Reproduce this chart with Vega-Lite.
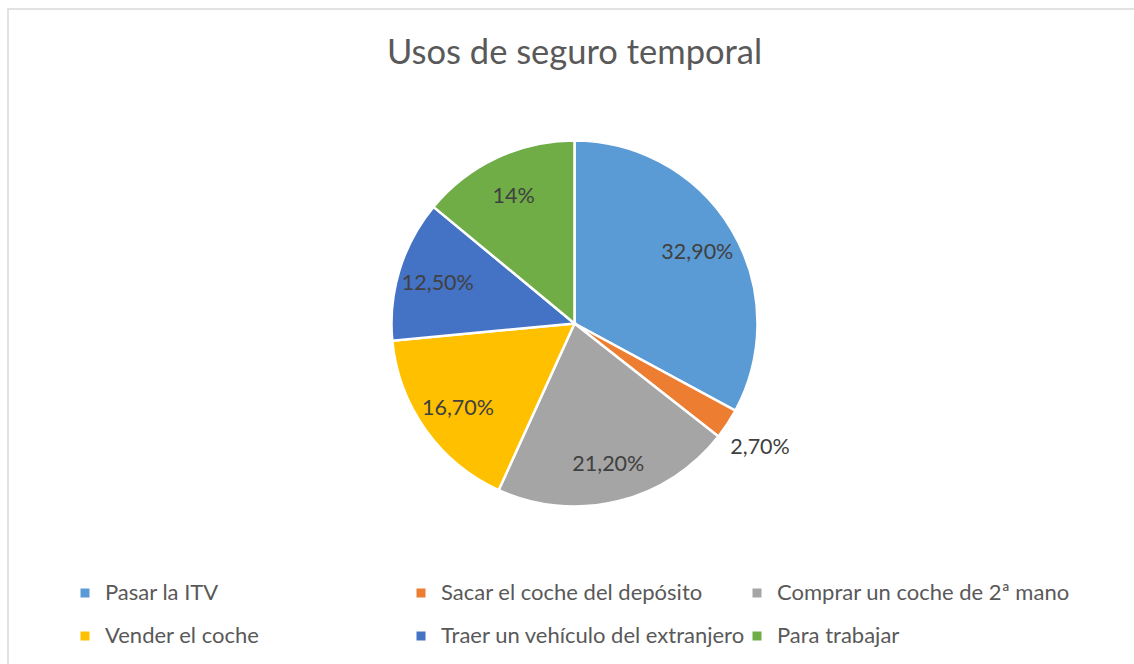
{
  "$schema": "https://vega.github.io/schema/vega-lite/v6.json",
  "autosize": {"type": "none"},
  "padding": {"left": 8, "top": 9, "right": 0, "bottom": 0},
  "width": 1140,
  "height": 668,
  "background": "#ffffff",
  "view": {"stroke": "#d9d9d9", "strokeWidth": 1.5, "fill": "#ffffff"},
  "title": {
    "text": "Usos de seguro temporal",
    "font": "Lato",
    "fontSize": 34.5,
    "fontWeight": "normal",
    "color": "#595959",
    "anchor": "start",
    "frame": "group",
    "dx": 379,
    "offset": -62
  },
  "data": {
    "values": [
      {"uso": "Pasar la ITV", "valor": 32.9, "label": "32,90%", "orden": 1},
      {"uso": "Sacar el coche del depósito", "valor": 2.7, "label": "2,70%", "orden": 2},
      {"uso": "Comprar un coche de 2ª mano", "valor": 21.2, "label": "21,20%", "orden": 3},
      {"uso": "Vender el coche", "valor": 16.7, "label": "16,70%", "orden": 4},
      {"uso": "Traer un vehículo del extranjero", "valor": 12.5, "label": "12,50%", "orden": 5},
      {"uso": "Para trabajar", "valor": 14, "label": "14%", "orden": 6}
    ]
  },
  "encoding": {
    "theta": {"field": "valor", "type": "quantitative", "stack": true},
    "order": {"field": "orden", "type": "quantitative"}
  },
  "layer": [
    {
      "mark": {"type": "arc", "outerRadius": 183, "stroke": "#ffffff", "strokeWidth": 2.5, "xOffset": -3.5, "yOffset": -19.5},
      "encoding": {
        "color": {
          "field": "uso",
          "type": "nominal",
          "sort": null,
          "scale": {
            "domain": ["Pasar la ITV", "Sacar el coche del depósito", "Comprar un coche de 2ª mano", "Vender el coche", "Traer un vehículo del extranjero", "Para trabajar"],
            "range": ["#5B9BD5", "#ED7D31", "#A5A5A5", "#FFC000", "#4472C4", "#70AD47"]
          },
          "legend": {
            "title": null,
            "orient": "none",
            "direction": "horizontal",
            "legendX": 66,
            "legendY": 573,
            "columns": 3,
            "gridAlign": "all",
            "columnPadding": 0,
            "rowPadding": 21,
            "symbolType": "square",
            "symbolSize": 81,
            "symbolStrokeWidth": 0,
            "labelFont": "Lato",
            "labelFontSize": 22,
            "labelColor": "#595959",
            "labelOffset": 9,
            "labelLimit": 0,
            "padding": 0
          }
        }
      }
    },
    {
      "mark": {"type": "text", "radius": 143, "font": "Lato", "fontSize": 21.5, "color": "#404040", "xOffset": -3.5, "yOffset": -17},
      "encoding": {
        "text": {"condition": {"test": "datum.valor < 5", "value": ""}, "field": "label", "type": "nominal"}
      }
    },
    {
      "mark": {"type": "text", "radius": 222, "font": "Lato", "fontSize": 21.5, "color": "#404040", "xOffset": -3.5, "yOffset": -17},
      "encoding": {
        "text": {"condition": {"test": "datum.valor >= 5", "value": ""}, "field": "label", "type": "nominal"}
      }
    }
  ],
  "config": {
    "view": {"stroke": "#d9d9d9", "strokeWidth": 1.5}
  }
}
